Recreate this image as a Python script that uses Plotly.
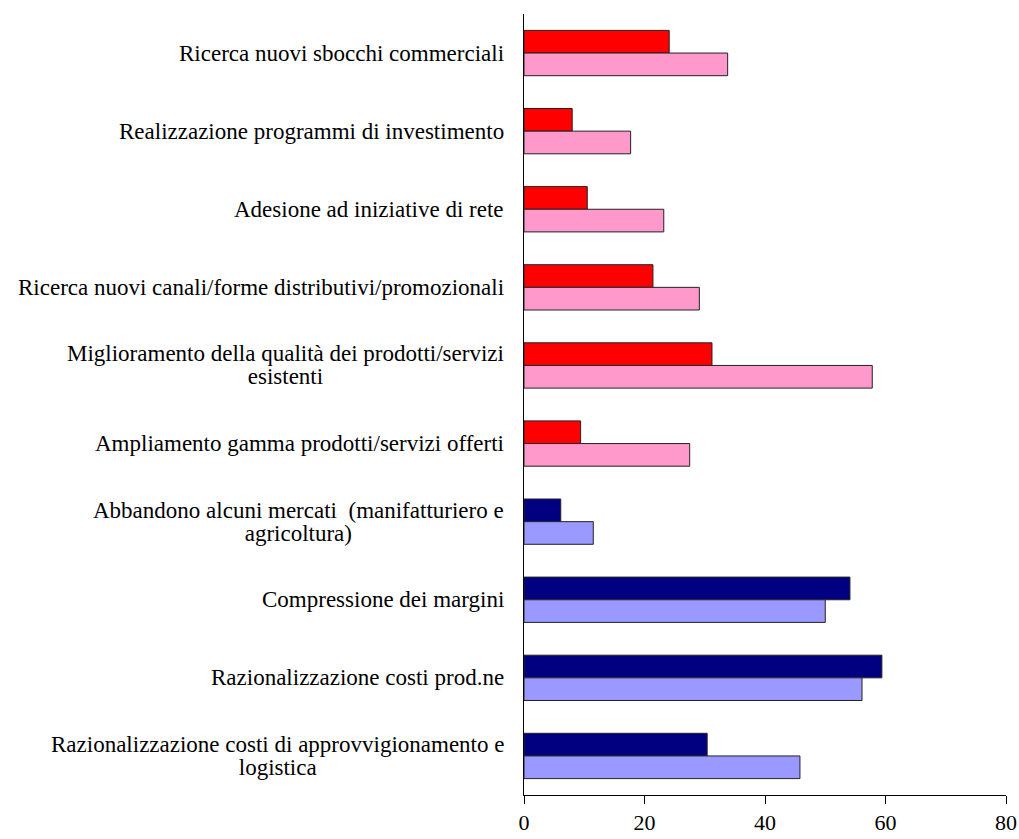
import plotly.graph_objects as go

# Categories, top to bottom
categories = [
    "Ricerca nuovi sbocchi commerciali",
    "Realizzazione programmi di investimento",
    "Adesione ad iniziative di rete",
    "Ricerca nuovi canali/forme distributivi/promozionali",
    "Miglioramento della qualità dei prodotti/servizi<br>esistenti",
    "Ampliamento gamma prodotti/servizi offerti",
    "Abbandono alcuni mercati  (manifatturiero e<br>agricoltura)",
    "Compressione dei margini",
    "Razionalizzazione costi prod.ne",
    "Razionalizzazione costi di approvvigionamento e<br>logistica",
]

# First series (darker bars) and second series (lighter bars)
series_a = [24.1, 8.0, 10.5, 21.4, 31.2, 9.4, 6.1, 54.1, 59.4, 30.4]
series_b = [33.8, 17.7, 23.2, 29.1, 57.8, 27.5, 11.5, 50.0, 56.1, 45.8]

# Group colours: first six rows red/pink, last four navy/lilac
group = ["r"] * 6 + ["b"] * 4
dark = {"r": "#FF0000", "b": "#000080"}
light = {"r": "#FF99CC", "b": "#9999FF"}

x_ticks = [0, 20, 40, 60, 80]

FONT = "Liberation Serif, Times New Roman, serif"
LABEL_PX = 23  # glyph size of category labels
LINE_PX = 18   # base size that sets the spacing between label lines

fig = go.Figure()
fig.add_trace(go.Bar(
    y=categories, x=series_a, orientation="h",
    marker=dict(color=[dark[g] for g in group], line=dict(color="#222222", width=1)),
    showlegend=False,
))
fig.add_trace(go.Bar(
    y=categories, x=series_b, orientation="h",
    marker=dict(color=[light[g] for g in group], line=dict(color="#222222", width=1)),
    showlegend=False,
))

# Category labels: right-aligned block, lines centred within it
for c in categories:
    txt = "<br>".join(
        f'<span style="font-size:{LABEL_PX}px">{line}</span>' for line in c.split("<br>")
    )
    fig.add_annotation(
        x=0, xref="paper", y=c, yref="y",
        text=txt, showarrow=False,
        xanchor="right", yanchor="middle", align="center",
        xshift=-18,
        font=dict(family=FONT, size=LINE_PX, color="black"),
    )

fig.update_layout(
    width=1019, height=839, autosize=False,
    margin=dict(l=524, r=13, t=14, b=44, autoexpand=False),
    paper_bgcolor="white", plot_bgcolor="white",
    barmode="group", bargap=0.42, bargroupgap=0,
    font=dict(family=FONT, size=20, color="black"),
)
fig.update_xaxes(
    range=[0, 80], tickvals=x_ticks, automargin=False,
    showline=True, linecolor="black", linewidth=1,
    ticks="outside", ticklen=8, tickcolor="black", tickwidth=1,
    ticklabelstandoff=0,
    showgrid=False, zeroline=False,
    tickfont=dict(family=FONT, size=22, color="black"),
)
fig.update_yaxes(
    autorange="reversed", showticklabels=False, automargin=False,
    showline=True, linecolor="black", linewidth=1,
    ticks="", showgrid=False, zeroline=False,
)

fig.write_html("out.html", config={"responsive": False})
